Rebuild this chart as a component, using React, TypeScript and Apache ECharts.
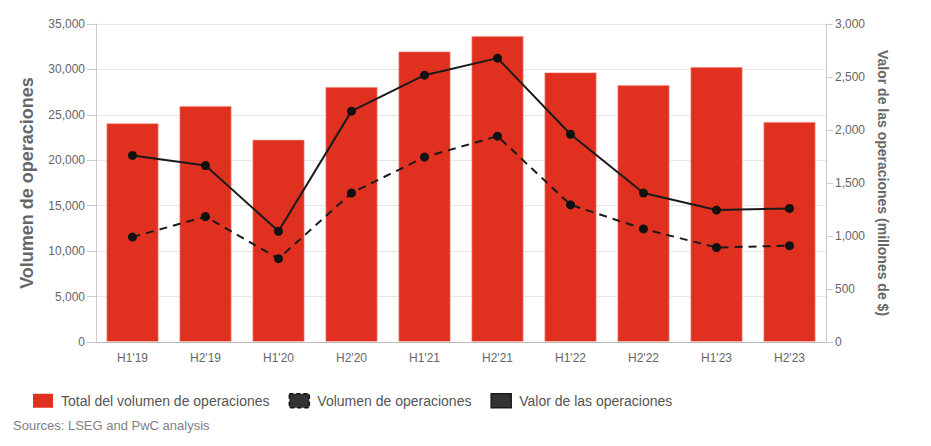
import React, { useEffect, useRef } from "react";
import * as echarts from "echarts";

const categories = ["H1'19", "H2'19", "H1'20", "H2'20", "H1'21", "H2'21", "H1'22", "H2'22", "H1'23", "H2'23"];
const totalVolume = [24100, 26000, 22300, 28100, 32000, 33700, 29700, 28300, 30300, 24250];
const dealVolume = [11550, 13800, 9170, 16400, 20350, 22650, 15100, 12450, 10400, 10600];
const dealValue = [1760, 1665, 1045, 2178, 2517, 2678, 1960, 1405, 1245, 1260];

const leftTitle = "Volumen de operaciones";
const rightTitle = "Valor de las operaciones (millones de $)";
const seriesNames = ["Total del volumen de operaciones", "Volumen de operaciones", "Valor de las operaciones"];
const sourceText = "Sources: LSEG and PwC analysis";

const FONT = '"Liberation Sans", Arial, sans-serif';

export default function App() {
  const ref = useRef<HTMLDivElement>(null);
  useEffect(() => {
    const chart = echarts.init(ref.current!, null, { renderer: "svg" });
    const fmt = (v: number) => v.toLocaleString("en-US");
    chart.setOption({
      animation: false,
      textStyle: { fontFamily: FONT },
      grid: { left: 96, right: 105, top: 24, bottom: 104, containLabel: false },
      legend: {
        left: 28,
        top: 388,
        itemWidth: 20,
        itemHeight: 14,
        itemGap: 19,
        textStyle: { fontSize: 14, color: "#555", fontFamily: FONT, padding: [0, 0, 0, 3] },
        data: [
          { name: seriesNames[0], icon: "rect", itemStyle: { color: "#e03120", borderWidth: 0 } },
          {
            name: seriesNames[1],
            icon: "rect",
            itemStyle: { color: "#333", borderColor: "#111", borderWidth: 1.5, borderType: [4, 3] },
          },
          { name: seriesNames[2], icon: "rect", itemStyle: { color: "#333", borderColor: "#1a1a1a", borderWidth: 1.5, borderType: "solid" } },
        ],
      },
      xAxis: {
        type: "category",
        data: categories,
        axisLine: { show: true, lineStyle: { color: "#bbb", width: 1 } },
        axisTick: { show: false },
        axisLabel: { color: "#666", fontSize: 12, margin: 10, fontFamily: FONT },
        splitLine: { show: false },
      },
      yAxis: [
        {
          type: "value",
          min: 0,
          max: 35000,
          interval: 5000,
          name: leftTitle,
          nameLocation: "middle",
          nameGap: 60,
          nameRotate: 90,
          nameTextStyle: { fontSize: 18, fontWeight: "bold", color: "#666", fontFamily: FONT },
          axisLine: { show: true, lineStyle: { color: "#ccc" } },
          axisTick: { show: true, length: 9, lineStyle: { color: "#ccc" } },
          axisLabel: { color: "#666", fontSize: 12, margin: 11, formatter: fmt, fontFamily: FONT },
          splitLine: { show: true, lineStyle: { color: "#e6e6e6" } },
        },
        {
          type: "value",
          min: 0,
          max: 3000,
          interval: 500,
          position: "right",
          name: rightTitle,
          nameLocation: "middle",
          nameGap: 50,
          nameRotate: -90,
          nameTextStyle: { fontSize: 14, fontWeight: "bold", color: "#666", fontFamily: FONT },
          axisLine: { show: true, lineStyle: { color: "#ccc" } },
          axisTick: { show: true, length: 7, lineStyle: { color: "#ccc" } },
          axisLabel: { color: "#666", fontSize: 12, margin: 9, formatter: fmt, fontFamily: FONT },
          splitLine: { show: false },
        },
      ],
      series: [
        {
          name: seriesNames[0],
          type: "bar",
          yAxisIndex: 0,
          data: totalVolume,
          barCategoryGap: "28%",
          itemStyle: { color: "#e03120", borderColor: "rgba(255,200,190,0.6)", borderWidth: 1 },
        },
        {
          name: seriesNames[1],
          type: "line",
          yAxisIndex: 0,
          data: dealVolume,
          symbol: "circle",
          symbolSize: 9,
          lineStyle: { color: "#1a1a1a", width: 2, type: [8, 6] },
          itemStyle: { color: "#111", borderColor: "#111", borderWidth: 0 },
          z: 3,
        },
        {
          name: seriesNames[2],
          type: "line",
          yAxisIndex: 1,
          data: dealValue,
          symbol: "circle",
          symbolSize: 9,
          lineStyle: { color: "#1a1a1a", width: 2, type: "solid" },
          itemStyle: { color: "#111", borderColor: "#111", borderWidth: 0 },
          z: 4,
        },
      ],
      graphic: [
        {
          type: "text",
          left: 13,
          top: 419,
          style: { text: sourceText, fontSize: 13, fill: "#7f7f7f", fontFamily: FONT },
        },
      ],
    });
    return () => chart.dispose();
  }, []);
  return <div ref={ref} style={{ position: "absolute", left: 0, top: 0, width: 931, height: 446 }} />;
}
